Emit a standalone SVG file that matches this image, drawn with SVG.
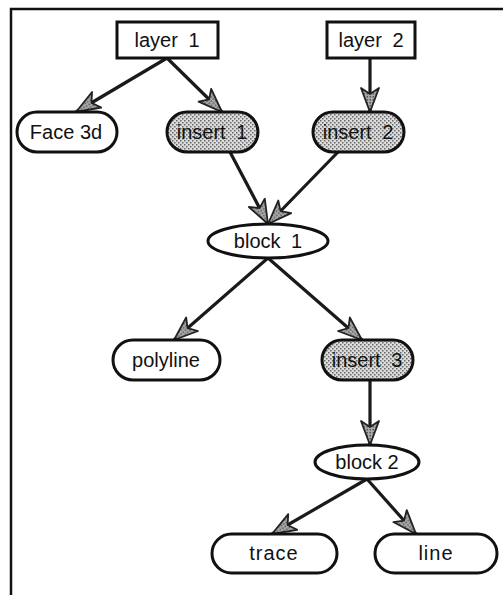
<svg xmlns="http://www.w3.org/2000/svg" width="503" height="595" viewBox="0 0 503 595">
<defs>
<pattern id="dots" width="4" height="4" patternUnits="userSpaceOnUse">
<rect width="4" height="4" fill="#dcdcdc"/>
<rect x="0" y="0" width="1.5" height="1.5" fill="#666"/>
<rect x="2" y="2" width="1.5" height="1.5" fill="#666"/>
</pattern>
<pattern id="dots2" width="3" height="3" patternUnits="userSpaceOnUse">
<rect width="3" height="3" fill="#aaa"/>
<rect x="0" y="0" width="1.5" height="1.5" fill="#555"/>
</pattern>
<marker id="arr" markerUnits="userSpaceOnUse" markerWidth="30" markerHeight="22" refX="25" refY="10" orient="auto" viewBox="0 0 30 20">
<path d="M1,1 L25,10 L1,19 L7,10 Z" fill="url(#dots2)" stroke="#222" stroke-width="1.8" stroke-linejoin="round"/>
</marker>
</defs>
<style>
.box{fill:#fff;stroke:#111;stroke-width:3}
.sh{fill:url(#dots);stroke:#111;stroke-width:3}
.t{font-family:"Liberation Sans",Arial,sans-serif;font-size:20px;fill:#111;text-anchor:middle}
.w{word-spacing:5px}
.c{stroke:#1a1a1a;stroke-width:3.2;fill:none;marker-end:url(#arr)}
.frame{stroke:#111;stroke-width:2.5;fill:none}
</style>
<path class="frame" d="M11,595 L11,9 L503,9"/>
<g id="connectors">
<line class="c" x1="167" y1="58" x2="76" y2="112"/>
<line class="c" x1="167" y1="58" x2="222" y2="112"/>
<line class="c" x1="370" y1="58" x2="370" y2="112"/>
<line class="c" x1="230" y1="152" x2="268" y2="224"/>
<line class="c" x1="338" y1="152" x2="268" y2="224"/>
<line class="c" x1="268" y1="258" x2="174" y2="340"/>
<line class="c" x1="268" y1="258" x2="362" y2="340"/>
<line class="c" x1="370" y1="380" x2="370" y2="445"/>
<line class="c" x1="367" y1="479" x2="272" y2="534"/>
<line class="c" x1="367" y1="479" x2="416" y2="534"/>
</g>
<g id="layer1"><rect class="box" x="117" y="22" width="101" height="36"/><text class="t w" x="167" y="47">layer 1</text></g>
<g id="layer2"><rect class="box" x="327" y="22" width="88" height="36"/><text class="t w" x="371" y="47">layer 2</text></g>
<g id="face3d"><rect class="box" x="17" y="112" width="100" height="40" rx="20"/><text class="t" x="66" y="139">Face 3d</text></g>
<g id="insert1"><rect class="sh" x="167" y="112" width="91" height="40" rx="20"/><text class="t w" x="212" y="139">insert 1</text></g>
<g id="insert2"><rect class="sh" x="313" y="112" width="91" height="40" rx="20"/><text class="t w" x="358" y="139">insert 2</text></g>
<g id="block1"><ellipse class="box" cx="268" cy="241" rx="60" ry="17"/><text class="t w" x="268" y="248">block 1</text></g>
<g id="polyline"><rect class="box" x="113" y="340" width="107" height="40" rx="20"/><text class="t" x="166" y="367">polyline</text></g>
<g id="insert3"><rect class="sh" x="322" y="340" width="91" height="40" rx="20"/><text class="t w" x="367" y="367">insert 3</text></g>
<g id="block2"><ellipse class="box" cx="367" cy="462" rx="52" ry="17"/><text class="t" x="367" y="469">block 2</text></g>
<g id="trace"><rect class="box" x="212" y="534" width="125" height="39" rx="19.5"/><text class="t" x="274" y="560" letter-spacing="1">trace</text></g>
<g id="line"><rect class="box" x="375" y="534" width="122" height="39" rx="19.5"/><text class="t" x="436" y="560" letter-spacing="1">line</text></g>
</svg>
